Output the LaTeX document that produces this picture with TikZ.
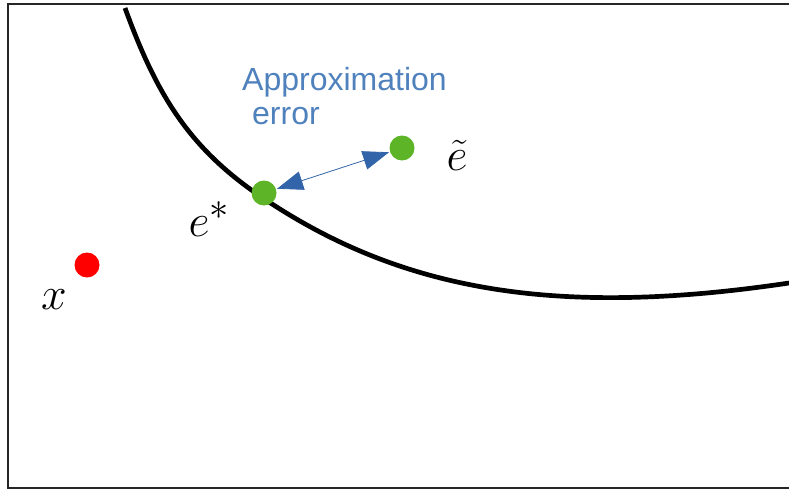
\documentclass[tikz,border=0pt]{standalone}
\usepackage{graphicx}
\usepackage{fontspec}
\setsansfont{Liberation Sans}
\usetikzlibrary{arrows.meta}
\definecolor{ptgreen}{RGB}{92,180,38}
\definecolor{ptblue}{RGB}{79,129,189}
\definecolor{arblue}{RGB}{50,100,170}
\newcommand{\bigmath}[1]{\scalebox{1.85}{$#1$}}
\tikzset{
  dot/.style={circle, inner sep=0pt, minimum size=25pt},
  mathlbl/.style={inner sep=0pt, font=\fontsize{24.88}{28}\selectfont},
  frameline/.style={line width=1.6pt, black!85},
}
\begin{document}
\begin{tikzpicture}[x=1pt,y=-1pt]
\useasboundingbox (0,0) rectangle (789,492);
% frame
\draw[frameline] (789,4) -- (8,4) -- (8,488) -- (789,488);
% curve
\draw[line width=4.7pt] (125,8) .. controls (156,93) and (188,148) .. (263,198)
  .. controls (404,293) and (561,317) .. (789,283);
% dots
\node[dot, fill=red] (x) at (87,265) {};
\node[dot, fill=ptgreen] (es) at (264,193) {};
\node[dot, fill=ptgreen] (et) at (402,148) {};
% arrow
\draw[arblue, line width=0.8pt, {Triangle[length=26pt,width=19pt]}-{Triangle[length=26pt,width=19pt]}, shorten <=1pt, shorten >=1pt] (es) -- (et);
% labels
\node[mathlbl] (lx) at (54,300) {\bigmath{x}};
\node[mathlbl] (les) at (209,219) {\bigmath{e^{*}}};
\node[mathlbl] (let) at (457,155) {\bigmath{\tilde{e}}};
\node[font=\sffamily\fontsize{32}{35}\selectfont, text=ptblue, align=left, anchor=north west, inner sep=0pt] (lbl) at (242,67) {Approximation\\[-1pt]\hspace*{10pt}error};
\end{tikzpicture}
\end{document}
